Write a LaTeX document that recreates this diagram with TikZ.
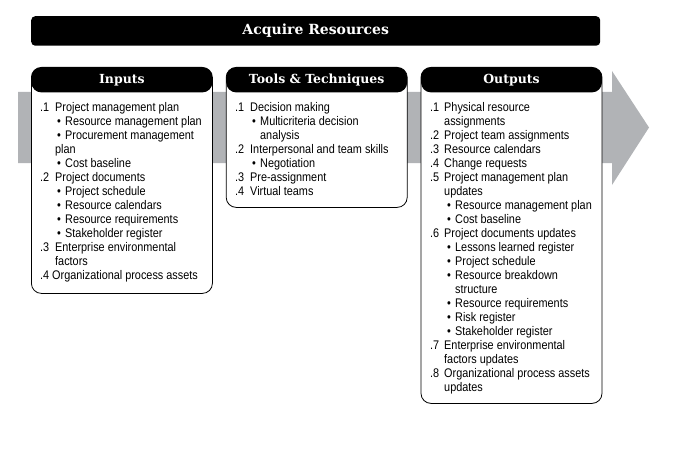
\documentclass[tikz,border=0pt]{standalone}
\usepackage{fontspec}
\setmainfont{Liberation Sans}[FakeStretch=0.87]
\newfontfamily\headfont{DejaVu Serif}
\usetikzlibrary{positioning}

\definecolor{arrowgray}{RGB}{177,179,182}

\newcommand{\nr}[2][15pt]{\makebox[#1][l]{#2}}
\newcommand{\bl}{\hspace*{17pt}\makebox[8pt][l]{\textbullet}}
\newcommand{\ind}[1][15pt]{\hspace*{#1}}

\begin{document}
\begin{tikzpicture}[x=1pt,y=-1pt,node distance=13pt,
    box/.style={draw, line width=0.8pt, rounded corners=10pt, fill=white,
      minimum width=181pt, inner sep=0pt,
      path picture={\fill[black] (path picture bounding box.north west)
        rectangle ([yshift=-25pt]path picture bounding box.north east);}},
    head/.style={text=white, inner sep=0pt,
      font=\headfont\bfseries\fontsize{12.5}{14}\selectfont},
    list/.style={anchor=north west, inner sep=0pt, align=left,
      font=\fontsize{12.5}{14}\selectfont}]

  \useasboundingbox (0,0) rectangle (685,476);

  % arrow behind the boxes
  \fill[arrowgray] (18,92) -- (612,92) -- (612,71) -- (649,127.5)
    -- (612,185) -- (612,163) -- (18,163) -- cycle;

  \node[fill=black, rounded corners=4pt, anchor=north west, inner sep=0pt,
    minimum width=569pt, minimum height=29.5pt, text=white,
    font=\headfont\bfseries\fontsize{14}{16}\selectfont] (title) at (31,16)
    {Acquire Resources};

  \node[box, anchor=north west, minimum height=226pt] (inputs) at (31,67) {};
  \node[box, right=of inputs.north east, anchor=north west,
    minimum height=140pt] (tools) {};
  \node[box, right=of tools.north east, anchor=north west,
    minimum height=336pt] (outputs) {};

  \node[head] (inhead) at ([yshift=-13pt]inputs.north) {Inputs};
  \node[head] (toolhead) at ([yshift=-13pt]tools.north) {Tools \& Techniques};
  \node[head] (outhead) at ([yshift=-13pt]outputs.north) {Outputs};

  \node[list] (inlist) at (40,102) {%
    \nr{.1}Project management plan\\
    \bl Resource management plan\\
    \bl Procurement management\\
    \ind plan\\
    \bl Cost baseline\\
    \nr{.2}Project documents\\
    \bl Project schedule\\
    \bl Resource calendars\\
    \bl Resource requirements\\
    \bl Stakeholder register\\
    \nr{.3}Enterprise environmental\\
    \ind factors\\
    \nr[12pt]{.4}Organizational process assets};

  \node[list] (toollist) at (235,102) {%
    \nr{.1}Decision making\\
    \bl Multicriteria decision\\
    \ind[25pt]analysis\\
    \nr{.2}Interpersonal and team skills\\
    \bl Negotiation\\
    \nr{.3}Pre-assignment\\
    \nr{.4}Virtual teams};

  \node[list] (outlist) at (430,102) {%
    \nr[14pt]{.1}Physical resource\\
    \ind[14pt]assignments\\
    \nr[14pt]{.2}Project team assignments\\
    \nr[14pt]{.3}Resource calendars\\
    \nr[14pt]{.4}Change requests\\
    \nr[14pt]{.5}Project management plan\\
    \ind[14pt]updates\\
    \bl Resource management plan\\
    \bl Cost baseline\\
    \nr[14pt]{.6}Project documents updates\\
    \bl Lessons learned register\\
    \bl Project schedule\\
    \bl Resource breakdown\\
    \ind[25pt]structure\\
    \bl Resource requirements\\
    \bl Risk register\\
    \bl Stakeholder register\\
    \nr[14pt]{.7}Enterprise environmental\\
    \ind[14pt]factors updates\\
    \nr[14pt]{.8}Organizational process assets\\
    \ind[14pt]updates};

\end{tikzpicture}
\end{document}
